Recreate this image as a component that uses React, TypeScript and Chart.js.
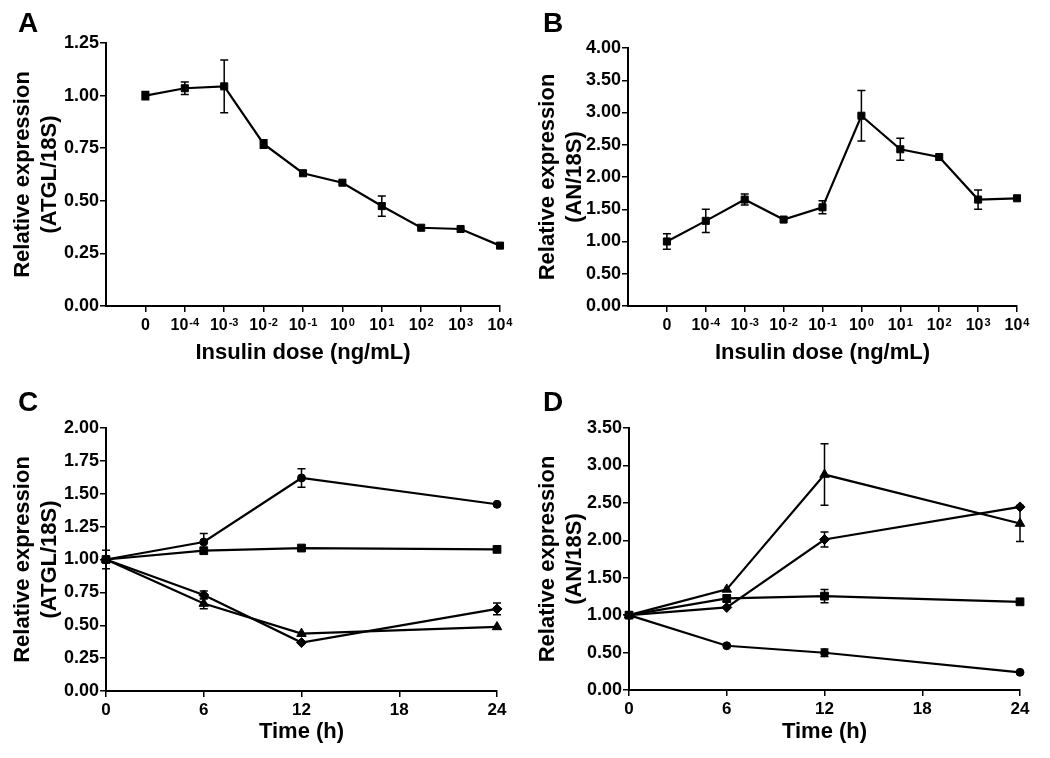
import React, { useEffect, useRef } from 'react';
import { Chart, registerables } from 'chart.js';

Chart.register(...registerables);

const FONT = '"Liberation Sans", Arial, Helvetica, sans-serif';

// ---------- Data ----------
// Insulin dose categories: base 10 with exponent (null = plain "0")
const doseExponents: (number | null)[] = [null, -4, -3, -2, -1, 0, 1, 2, 3, 4];
const supMap: Record<string, string> = { '-': '⁻', '0': '⁰', '1': '¹', '2': '²', '3': '³', '4': '⁴' };
const doseLabels = doseExponents.map((e) =>
  e === null ? '0' : '10' + String(e).split('').map((c) => supMap[c] ?? c).join('')
);

// Panel A: ATGL vs insulin dose
const atglDose = [1.0, 1.035, 1.044, 0.77, 0.631, 0.586, 0.475, 0.372, 0.366, 0.287];
const atglDoseErr = [0.02, 0.03, 0.125, 0.02, 0, 0, 0.048, 0, 0, 0];

// Panel B: AN vs insulin dose
const anDose = [1.0, 1.32, 1.65, 1.34, 1.53, 2.95, 2.43, 2.31, 1.65, 1.67];
const anDoseErr = [0.12, 0.18, 0.085, 0, 0.1, 0.39, 0.17, 0, 0.15, 0];

// Time course
const timePoints = [0, 6, 12, 24];
const timeTicks = [0, 6, 12, 18, 24];

// Panel C: ATGL vs time
const atglCircle = [1.0, 1.133, 1.62, 1.42];
const atglCircleErr = [0, 0.065, 0.07, 0];
const atglSquare = [1.0, 1.067, 1.087, 1.077];
const atglSquareErr = [0.07, 0, 0, 0];
const atglDiamond = [1.0, 0.73, 0.368, 0.624];
const atglDiamondErr = [0, 0.03, 0, 0.045];
const atglTriangle = [1.0, 0.665, 0.436, 0.487];
const atglTriangleErr = [0, 0.04, 0, 0];

// Panel D: AN vs time
const anTriangle = [1.0, 1.344, 2.878, 2.224];
const anTriangleErr = [0, 0, 0.41, 0.24];
const anDiamond = [1.0, 1.103, 2.01, 2.446];
const anDiamondErr = [0, 0, 0.1, 0];
const anSquare = [1.0, 1.223, 1.254, 1.178];
const anSquareErr = [0, 0.05, 0.09, 0];
const anCircle = [1.0, 0.591, 0.498, 0.236];
const anCircleErr = [0, 0, 0.05, 0];

// ---------- Plugin: error bars ----------
const errorBarPlugin = {
  id: 'errorBars',
  afterDatasetsDraw(chart: any) {
    const ctx = chart.ctx;
    const yScale = chart.scales.y;
    chart.data.datasets.forEach((ds: any, i: number) => {
      const errs = ds.errors;
      if (!errs) return;
      const meta = chart.getDatasetMeta(i);
      meta.data.forEach((pt: any, j: number) => {
        const e = errs[j];
        if (!e) return;
        const v = ds.data[j].y;
        const top = yScale.getPixelForValue(v + e);
        const bot = yScale.getPixelForValue(v - e);
        ctx.save();
        ctx.strokeStyle = '#000';
        ctx.lineWidth = 1.5;
        ctx.beginPath();
        ctx.moveTo(pt.x, top);
        ctx.lineTo(pt.x, bot);
        ctx.moveTo(pt.x - 4, top);
        ctx.lineTo(pt.x + 4, top);
        ctx.moveTo(pt.x - 4, bot);
        ctx.lineTo(pt.x + 4, bot);
        ctx.stroke();
        ctx.restore();
      });
    });
  },
};

// ---------- Plugin: power-of-ten tick labels with raised exponents ----------
const powerTickPlugin = {
  id: 'powerTicks',
  afterDraw(chart: any) {
    if (!chart.options.plugins?.powerTicks?.enabled) return;
    const ctx = chart.ctx;
    const xs = chart.scales.x;
    const baseY = xs.top + 24;
    ctx.save();
    ctx.fillStyle = '#000';
    ctx.textBaseline = 'alphabetic';
    ctx.textAlign = 'left';
    doseExponents.forEach((e, i) => {
      const px = xs.getPixelForValue(i);
      const baseFont = `bold 16px ${FONT}`;
      const expFont = `bold 11px ${FONT}`;
      if (e === null) {
        ctx.font = baseFont;
        const w = ctx.measureText('0').width;
        ctx.fillText('0', px - w / 2, baseY);
        return;
      }
      const expText = String(e);
      ctx.font = baseFont;
      const wb = ctx.measureText('10').width;
      ctx.font = expFont;
      const we = ctx.measureText(expText).width;
      const total = wb + 1 + we;
      const x0 = px - total / 2;
      ctx.font = baseFont;
      ctx.fillText('10', x0, baseY);
      ctx.font = expFont;
      ctx.fillText(expText, x0 + wb + 1, baseY - 4.5);
    });
    ctx.restore();
  },
};

type Series = { values: number[]; errors: number[]; style: string; radius: number };

type PanelSpec = {
  xs: number[];
  series: Series[];
  xMode: 'dose' | 'time';
  yMax: number;
  yStep: number;
  yTitle: string[];
  xTitle: string;
  yWidth: number;
  xHeight: number;
  padTop: number;
  padRight: number;
};

function makeDataset(xs: number[], s: Series) {
  return {
    data: xs.map((x, i) => ({ x, y: s.values[i] })),
    errors: s.errors,
    borderColor: '#000',
    backgroundColor: '#000',
    borderWidth: 2.2,
    pointStyle: s.style,
    pointRadius: s.radius,
    pointBorderWidth: 1,
    pointBorderColor: '#000',
    pointBackgroundColor: '#000',
    tension: 0,
    clip: false,
  };
}

function makeConfig(p: PanelSpec): any {
  const tickFont = { family: FONT, size: 18, weight: 'bold' as const };
  const titleFont = { family: FONT, size: 22, weight: 'bold' as const };
  const grid = {
    display: true,
    drawOnChartArea: false,
    drawTicks: true,
    tickLength: 6,
    color: '#000',
    lineWidth: 1.5,
  };
  const border = { display: true, color: '#000', width: 2 };

  const xScale: any =
    p.xMode === 'dose'
      ? {
          type: 'linear',
          min: -1,
          max: 9,
          afterBuildTicks: (s: any) => {
            s.ticks = doseLabels.map((_, i) => ({ value: i }));
          },
          ticks: {
            autoSkip: false,
            maxRotation: 0,
            callback: (v: any) => doseLabels[v] ?? '',
            font: { family: FONT, size: 16, weight: 'bold' as const },
            color: 'rgba(0,0,0,0)',
            padding: 3,
          },
        }
      : {
          type: 'linear',
          min: 0,
          max: 24,
          afterBuildTicks: (s: any) => {
            s.ticks = timeTicks.map((v) => ({ value: v }));
          },
          ticks: {
            autoSkip: false,
            maxRotation: 0,
            callback: (v: any) => String(v),
            font: { family: FONT, size: 17, weight: 'bold' as const },
            color: '#000',
            padding: 3,
          },
        };
  xScale.grid = grid;
  xScale.border = border;
  xScale.afterFit = (s: any) => {
    s.height = p.xHeight;
  };
  xScale.title = {
    display: true,
    text: p.xTitle,
    font: titleFont,
    color: '#000',
    padding: { top: 0, bottom: 13 },
  };

  return {
    type: 'line',
    data: { datasets: p.series.map((s) => makeDataset(p.xs, s)) },
    plugins: [errorBarPlugin, powerTickPlugin],
    options: {
      responsive: false,
      animation: false,
      devicePixelRatio: 1,
      layout: { padding: { top: p.padTop, right: p.padRight, left: 0, bottom: 0 } },
      plugins: {
        legend: { display: false },
        tooltip: { enabled: false },
        powerTicks: { enabled: p.xMode === 'dose' },
      },
      scales: {
        x: xScale,
        y: {
          type: 'linear',
          min: 0,
          max: p.yMax,
          afterFit: (s: any) => {
            s.width = p.yWidth;
          },
          ticks: {
            stepSize: p.yStep,
            callback: (v: any) => Number(v).toFixed(2),
            font: tickFont,
            color: '#000',
            padding: 1,
          },
          grid,
          border,
          title: {
            display: true,
            text: p.yTitle,
            font: titleFont,
            color: '#000',
            padding: { top: 10, bottom: 0 },
          },
        },
      },
    },
  };
}

const doseIdx = doseLabels.map((_, i) => i);

const panels: { letter: string; left: number; top: number; spec: PanelSpec }[] = [
  {
    letter: 'A',
    left: 0,
    top: 0,
    spec: {
      xs: doseIdx,
      series: [{ values: atglDose, errors: atglDoseErr, style: 'rect', radius: 5 }],
      xMode: 'dose',
      yMax: 1.25,
      yStep: 0.25,
      yTitle: ['Relative expression', '(ATGL/18S)'],
      xTitle: 'Insulin dose (ng/mL)',
      yWidth: 106,
      xHeight: 73,
      padTop: 43,
      padRight: 25,
    },
  },
  {
    letter: 'B',
    left: 525,
    top: 0,
    spec: {
      xs: doseIdx,
      series: [{ values: anDose, errors: anDoseErr, style: 'rect', radius: 5 }],
      xMode: 'dose',
      yMax: 4,
      yStep: 0.5,
      yTitle: ['Relative expression', '(AN/18S)'],
      xTitle: 'Insulin dose (ng/mL)',
      yWidth: 103,
      xHeight: 73,
      padTop: 48,
      padRight: 33,
    },
  },
  {
    letter: 'C',
    left: 0,
    top: 379,
    spec: {
      xs: timePoints,
      series: [
        { values: atglCircle, errors: atglCircleErr, style: 'circle', radius: 4 },
        { values: atglSquare, errors: atglSquareErr, style: 'rect', radius: 5.5 },
        { values: atglDiamond, errors: atglDiamondErr, style: 'rectRot', radius: 5 },
        { values: atglTriangle, errors: atglTriangleErr, style: 'triangle', radius: 5.5 },
      ],
      xMode: 'time',
      yMax: 2,
      yStep: 0.25,
      yTitle: ['Relative expression', '(ATGL/18S)'],
      xTitle: 'Time (h)',
      yWidth: 106,
      xHeight: 67,
      padTop: 49,
      padRight: 28,
    },
  },
  {
    letter: 'D',
    left: 525,
    top: 379,
    spec: {
      xs: timePoints,
      series: [
        { values: anTriangle, errors: anTriangleErr, style: 'triangle', radius: 5.5 },
        { values: anDiamond, errors: anDiamondErr, style: 'rectRot', radius: 5 },
        { values: anSquare, errors: anSquareErr, style: 'rect', radius: 5.5 },
        { values: anCircle, errors: anCircleErr, style: 'circle', radius: 4 },
      ],
      xMode: 'time',
      yMax: 3.5,
      yStep: 0.5,
      yTitle: ['Relative expression', '(AN/18S)'],
      xTitle: 'Time (h)',
      yWidth: 104,
      xHeight: 68,
      padTop: 49,
      padRight: 30,
    },
  },
];

function Panel({ letter, left, top, spec }: { letter: string; left: number; top: number; spec: PanelSpec }) {
  const ref = useRef<HTMLCanvasElement | null>(null);
  useEffect(() => {
    if (!ref.current) return;
    const chart = new Chart(ref.current, makeConfig(spec));
    return () => chart.destroy();
  }, []);
  return (
    <div style={{ position: 'absolute', left, top, width: 525, height: 379 }}>
      <canvas ref={ref} width={525} height={379} style={{ display: 'block' }} />
      <div
        style={{
          position: 'absolute',
          left: 18,
          top: 9,
          fontFamily: FONT,
          fontWeight: 'bold',
          fontSize: 28,
          lineHeight: 1,
          color: '#000',
        }}
      >
        {letter}
      </div>
    </div>
  );
}

export default function App() {
  useEffect(() => {
    document.body.style.margin = '0';
  }, []);
  return (
    <div style={{ position: 'absolute', left: 0, top: 0, width: 1050, height: 758, background: '#fff', overflow: 'hidden' }}>
      {panels.map((p) => (
        <Panel key={p.letter} {...p} />
      ))}
    </div>
  );
}
